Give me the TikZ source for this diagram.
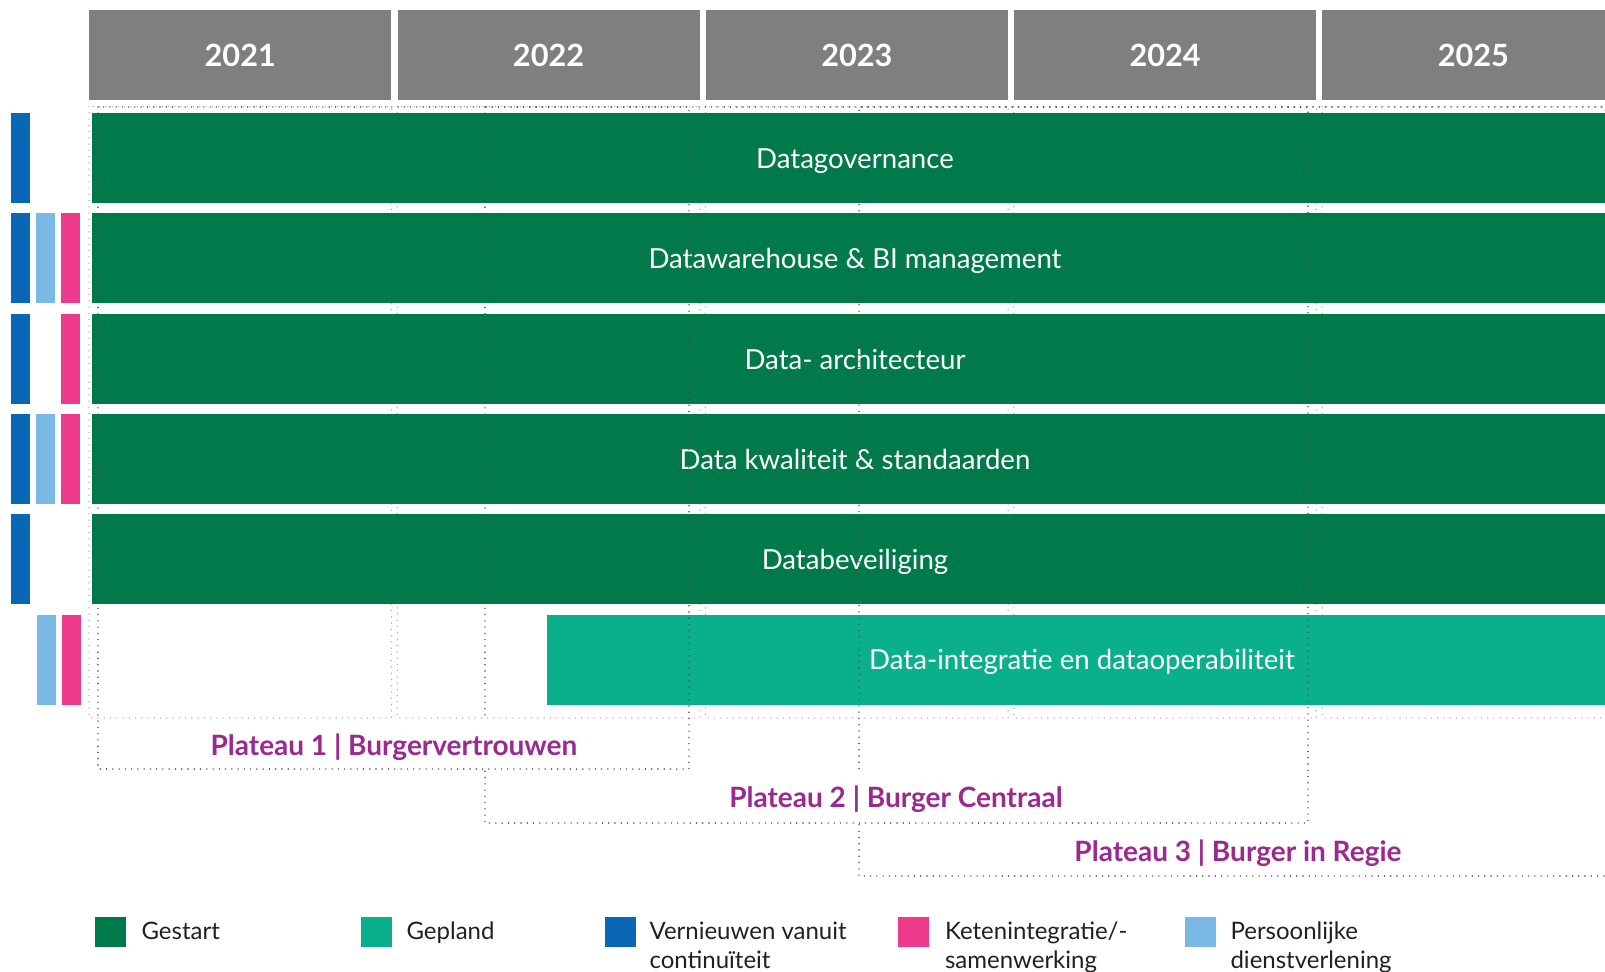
\documentclass[tikz,border=0pt]{standalone}
\usepackage{fontspec}
\setmainfont{Lato}
\usetikzlibrary{positioning}
\definecolor{started}{HTML}{007A4B}
\definecolor{planned}{HTML}{0AB08C}
\definecolor{renew}{HTML}{0A67B5}
\definecolor{chain}{HTML}{EE3A8C}
\definecolor{personal}{HTML}{7AB8E5}
\definecolor{header}{HTML}{7F7F81}
\definecolor{plateau}{HTML}{9B2A8E}
\definecolor{legendtext}{HTML}{231F20}
\newdimen\px \px=0.75pt
\begin{document}
\begin{tikzpicture}[x=0.75pt,y=-0.75pt,
    year/.style={fill=header,text=white,font=\fontsize{23}{27}\selectfont\bfseries,
      minimum width=302\px,minimum height=90\px,inner sep=0pt},
    bar/.style={fill=started,text=white,font=\fontsize{20.7}{24}\selectfont,
      text height=16pt,text depth=0.3pt,
      minimum width=1526\px,minimum height=90\px,inner sep=0pt},
    planbar/.style={bar,fill=planned,minimum width=1070\px},
    tag/.style={minimum width=19\px,minimum height=90\px,inner sep=0pt},
    colgrid/.style={draw=black!35,line width=1.1pt,line cap=round,dash pattern=on 0pt off 4.7pt},
    platbox/.style={draw=black!70,line width=1.2pt,line cap=round,dash pattern=on 0pt off 4.7pt},
    plabel/.style={fill=white,text=plateau,font=\fontsize{21}{25}\selectfont\bfseries,
      text height=18pt,text depth=0.5pt,minimum height=48\px,inner sep=2pt},
    key/.style={minimum width=31\px,minimum height=30\px,inner sep=0pt},
    keytext/.style={text=legendtext,font=\fontsize{18}{21.5}\selectfont,align=left,inner sep=0pt}]
  \useasboundingbox (0,0) rectangle (1605,971);
  % years
  \node[year,anchor=north west] (y2021) at (89,10) {2021};
  \node[year] (y2022) [right=5.75\px of y2021] {2022};
  \node[year] (y2023) [right=5.75\px of y2022] {2023};
  \node[year] (y2024) [right=5.75\px of y2023] {2024};
  \node[year] (y2025) [right=5.75\px of y2024] {2025};
  \coordinate (gridbot) at (0,718);
  \draw[colgrid] ([yshift=-6\px]y2021.south west) rectangle (y2021.south east |- gridbot);
  \draw[colgrid] ([yshift=-6\px]y2022.south west) rectangle (y2022.south east |- gridbot);
  \draw[colgrid] ([yshift=-6\px]y2023.south west) rectangle (y2023.south east |- gridbot);
  \draw[colgrid] ([yshift=-6\px]y2024.south west) rectangle (y2024.south east |- gridbot);
  \draw[colgrid] ([yshift=-6\px]y2025.south west) rectangle (y2025.south east |- gridbot);
  % themes
  \node[bar] (gov) at (855,158) {Datagovernance};
  \node[bar] (dwh) at (855,258.3) {Datawarehouse \& BI management};
  \node[bar] (arch) at (855,358.6) {Data- architecteur};
  \node[bar] (qual) at (855,458.9) {Data kwaliteit \& standaarden};
  \node[bar] (sec) at (855,559.2) {Databeveiliging};
  \node[planbar] (integ) at (1082,659.5) {Data-integratie en dataoperabiliteit};
  \node[tag,fill=renew] (gov-r) [left=61\px of gov] {};
  \node[tag,fill=renew] (dwh-r) [left=61\px of dwh] {};
  \node[tag,fill=personal] (dwh-p) [left=36\px of dwh] {};
  \node[tag,fill=chain] (dwh-c) [left=11\px of dwh] {};
  \node[tag,fill=renew] (arch-r) [left=61\px of arch] {};
  \node[tag,fill=chain] (arch-c) [left=11\px of arch] {};
  \node[tag,fill=renew] (qual-r) [left=61\px of qual] {};
  \node[tag,fill=personal] (qual-p) [left=36\px of qual] {};
  \node[tag,fill=chain] (qual-c) [left=11\px of qual] {};
  \node[tag,fill=renew] (sec-r) [left=61\px of sec] {};
  \node[tag,fill=personal] (integ-p) at (46.5,659.5) {};
  \node[tag,fill=chain] (integ-c) at (71.5,659.5) {};
  % plateaus
  \draw[platbox] (98,107) rectangle (689,769);
  \draw[platbox] (485,107) rectangle (1308,823);
  \draw[platbox] (1620,107) -| (859,876) -- (1620,876);
  \node[plabel] (p1) at (394,744) {Plateau 1 | Burgervertrouwen};
  \node[plabel] (p2) at (896,796) {Plateau 2 | Burger Centraal};
  \node[plabel] (p3) at (1238,850) {Plateau 3 | Burger in Regie};
  % legend
  \node[key,fill=started] (kstart) at (110.5,932) {};
  \node[keytext] (tstart) [right=15\px of kstart.north east,anchor=north west,yshift=-5\px] {Gestart};
  \node[key,fill=planned] (kplan) at (376.5,932) {};
  \node[keytext] (tplan) [right=14\px of kplan.north east,anchor=north west,yshift=-5\px] {Gepland};
  \node[key,fill=renew] (krenew) at (620.5,932) {};
  \node[keytext] (trenew) [right=13\px of krenew.north east,anchor=north west,yshift=-5\px] {Vernieuwen vanuit\\continuïteit};
  \node[key,fill=chain] (kchain) at (913,932) {};
  \node[keytext] (tchain) [right=16\px of kchain.north east,anchor=north west,yshift=-5\px] {Ketenintegratie/-\\samenwerking};
  \node[key,fill=personal] (kpers) at (1200.5,932) {};
  \node[keytext] (tpers) [right=14\px of kpers.north east,anchor=north west,yshift=-5\px] {Persoonlijke\\dienstverlening};
\end{tikzpicture}
\end{document}
